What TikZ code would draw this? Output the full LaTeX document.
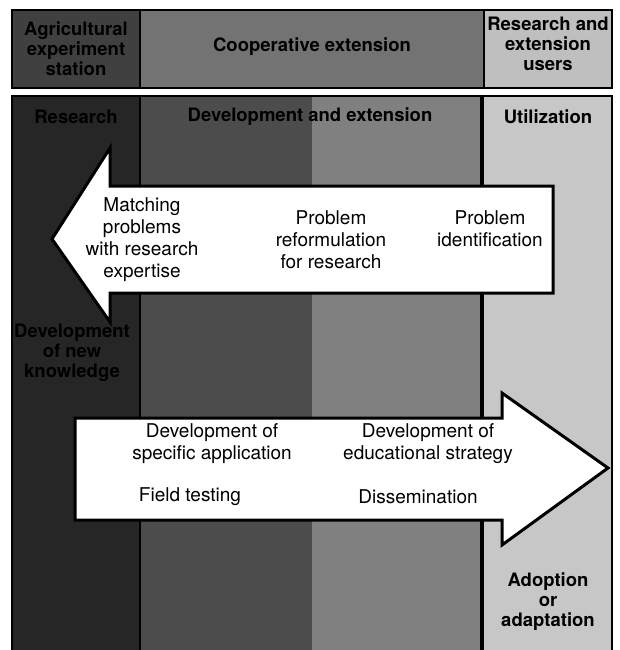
\documentclass[tikz,border=0pt]{standalone}
\usepackage{fontspec}
\setmainfont{TeX Gyre Heros}
\begin{document}
\begin{tikzpicture}[x=1pt,y=-1pt,
  lbl/.style={font=\fontsize{19}{22}\selectfont, align=center, text=black, inner sep=0pt},
  hdr/.style={font=\bfseries\fontsize{18.5}{20}\selectfont, align=center, text=black, inner sep=0pt},
  bigarrow/.style={fill=white, draw=black, line width=3pt, line join=miter},
  frame/.style={draw=black, line width=2.5pt}]
\useasboundingbox (0,0) rectangle (619,650);
\fill[white] (0,0) rectangle (619,650);
% top band
\fill[black!75] (12,10) rectangle (140,88);
\fill[black!55] (140,10) rectangle (484,88);
\fill[black!25] (484,10) rectangle (612,88);
\draw[frame] (12,10) rectangle (612,88);
\draw[frame] (140,10) -- (140,88);
\draw[frame] (484,10) -- (484,88);
% main panel
\fill[black!85] (12,96) rectangle (140,650);
\fill[black!70] (140,96) rectangle (312,650);
\fill[black!50] (312,96) rectangle (482,650);
\fill[black!22] (482,96) rectangle (612,650);
\draw[frame] (12,650) -- (12,96) -- (612,96) -- (612,650);
\draw[black, line width=2pt] (140,96) -- (140,650);
\draw[black, line width=4pt] (482,96) -- (482,650);
% upper arrow (leftward)
\draw[bigarrow] (553,186) -- (553,293) -- (110,293) -- (110,322) -- (52,239) -- (110,148) -- (110,186) -- cycle;
% lower arrow (rightward)
\draw[bigarrow] (75,418) -- (502,418) -- (502,393) -- (608,468) -- (502,545) -- (502,520) -- (75,520) -- cycle;
% header texts
\node[hdr] (aes) at (76,49) {Agricultural\\experiment\\station};
\node[hdr] (coop) at (312,47) {Cooperative extension};
\node[hdr] (reu) at (548,44) {Research and\\extension\\users};
\node[hdr] (res) at (76,117) {Research};
\node[hdr] (dev) at (310,117) {Development and extension};
\node[hdr] (util) at (548,117) {Utilization};
\node[hdr] (newk) at (72,353) {Development\\of new\\knowledge};
\node[hdr] (adopt) at (548,602) {Adoption\\or\\adaptation};
% arrow texts
\node[lbl] (match) at (142,240) {Matching\\problems\\with research\\expertise};
\node[lbl] (reform) at (331,240) {Problem\\reformulation\\for research};
\node[lbl] (ident) at (490,229) {Problem\\identification};
\node[lbl] (spec) at (212,444) {Development of\\specific application};
\node[lbl] (educ) at (428,444) {Development of\\educational strategy};
\node[lbl] (field) at (190,497) {Field testing};
\node[lbl] (dissem) at (418,497) {Dissemination};
\end{tikzpicture}
\end{document}
